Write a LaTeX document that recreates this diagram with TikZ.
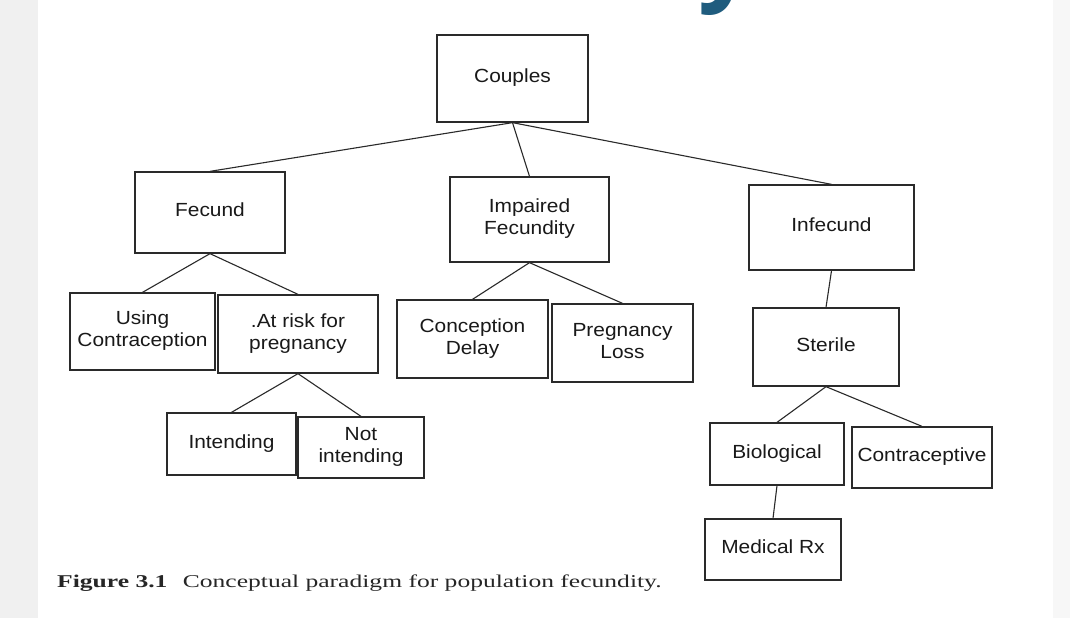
\documentclass[tikz,border=0pt]{standalone}
\usepackage{fontspec}
\setmainfont{Liberation Sans}
\newfontfamily\capfont{Liberation Serif}
\newfontfamily\titlefont{Open Sans}
\usepackage{graphicx}
\definecolor{ink}{HTML}{2A2A2A}
\definecolor{titleblue}{HTML}{1F5C7E}
\newcommand\bt[1]{\scalebox{1.1}[1]{\begin{tabular}{@{}c@{}}#1\end{tabular}}}
\tikzset{
  box/.style={draw=ink, line width=1.3pt, inner sep=0pt, fill=white,
    font=\fontsize{19}{22}\selectfont, text=black!90},
  link/.style={draw=ink, line width=1.1pt},
}
\begin{document}
\begin{tikzpicture}[x=1pt,y=-1pt]
\useasboundingbox (0,0) rectangle (1070,618);
\fill[white] (0,0) rectangle (1070,618);
\fill[black!6] (0,0) rectangle (38,618);
\fill[black!3] (1053,0) rectangle (1070,618);
\begin{scope}
\clip (0,0) rectangle (1070,618);
\node[anchor=base, inner sep=0pt, text=titleblue,
  font=\titlefont\bfseries\fontsize{100}{100}\selectfont] (ttl) at (727,-8) {y};
\end{scope}
% boxes
\node[box, minimum width=151, minimum height=87] (couples) at (512.5,78.5) {\bt{Couples}};
\node[box, minimum width=150, minimum height=81] (fecund) at (210,212.5) {\bt{Fecund}};
\node[box, minimum width=159, minimum height=85] (impaired) at (529.5,219.5) {\bt{Impaired\\Fecundity}};
\node[box, minimum width=165, minimum height=85] (infecund) at (831.5,227.5) {\bt{Infecund}};
\node[box, minimum width=145, minimum height=77] (using) at (142.5,331.5) {\bt{Using\\Contraception}};
\node[box, minimum width=160, minimum height=78] (atrisk) at (298,334) {\bt{.At risk for\\pregnancy}};
\node[box, minimum width=151, minimum height=78] (delay) at (472.5,339) {\bt{Conception\\Delay}};
\node[box, minimum width=141, minimum height=78] (loss) at (622.5,343) {\bt{Pregnancy\\Loss}};
\node[box, minimum width=146, minimum height=78] (sterile) at (826,347) {\bt{Sterile}};
\node[box, minimum width=129, minimum height=62] (intend) at (231.5,444) {\bt{Intending}};
\node[box, minimum width=126, minimum height=61] (notint) at (361,447.5) {\bt{Not\\intending}};
\node[box, minimum width=134, minimum height=62] (bio) at (777,454) {\bt{Biological}};
\node[box, minimum width=140, minimum height=61] (contra) at (922,457.5) {\bt{Contraceptive}};
\node[box, minimum width=136, minimum height=61] (medrx) at (773,549.5) {\bt{Medical Rx}};
% connectors
\draw[link] (couples.south) -- (fecund.north);
\draw[link] (couples.south) -- (impaired.north);
\draw[link] (couples.south) -- (infecund.north);
\draw[link] (fecund.south) -- (using.north);
\draw[link] (fecund.south) -- (atrisk.north);
\draw[link] (atrisk.south) -- (intend.north);
\draw[link] (atrisk.south) -- (notint.north);
\draw[link] (impaired.south) -- (delay.north);
\draw[link] (impaired.south) -- (loss.north);
\draw[link] (infecund.south) -- (sterile.north);
\draw[link] (sterile.south) -- (bio.north);
\draw[link] (sterile.south) -- (contra.north);
\draw[link] (bio.south) -- (medrx.north);
% caption
\node[anchor=base west, inner sep=0pt, font=\capfont\fontsize{18}{20}\selectfont, text=black!85] (caption) at (57,587)
  {\scalebox{1.42}[1]{\textbf{Figure 3.1}\hspace{0.6em}Conceptual paradigm for population fecundity.}};
\end{tikzpicture}
\end{document}
